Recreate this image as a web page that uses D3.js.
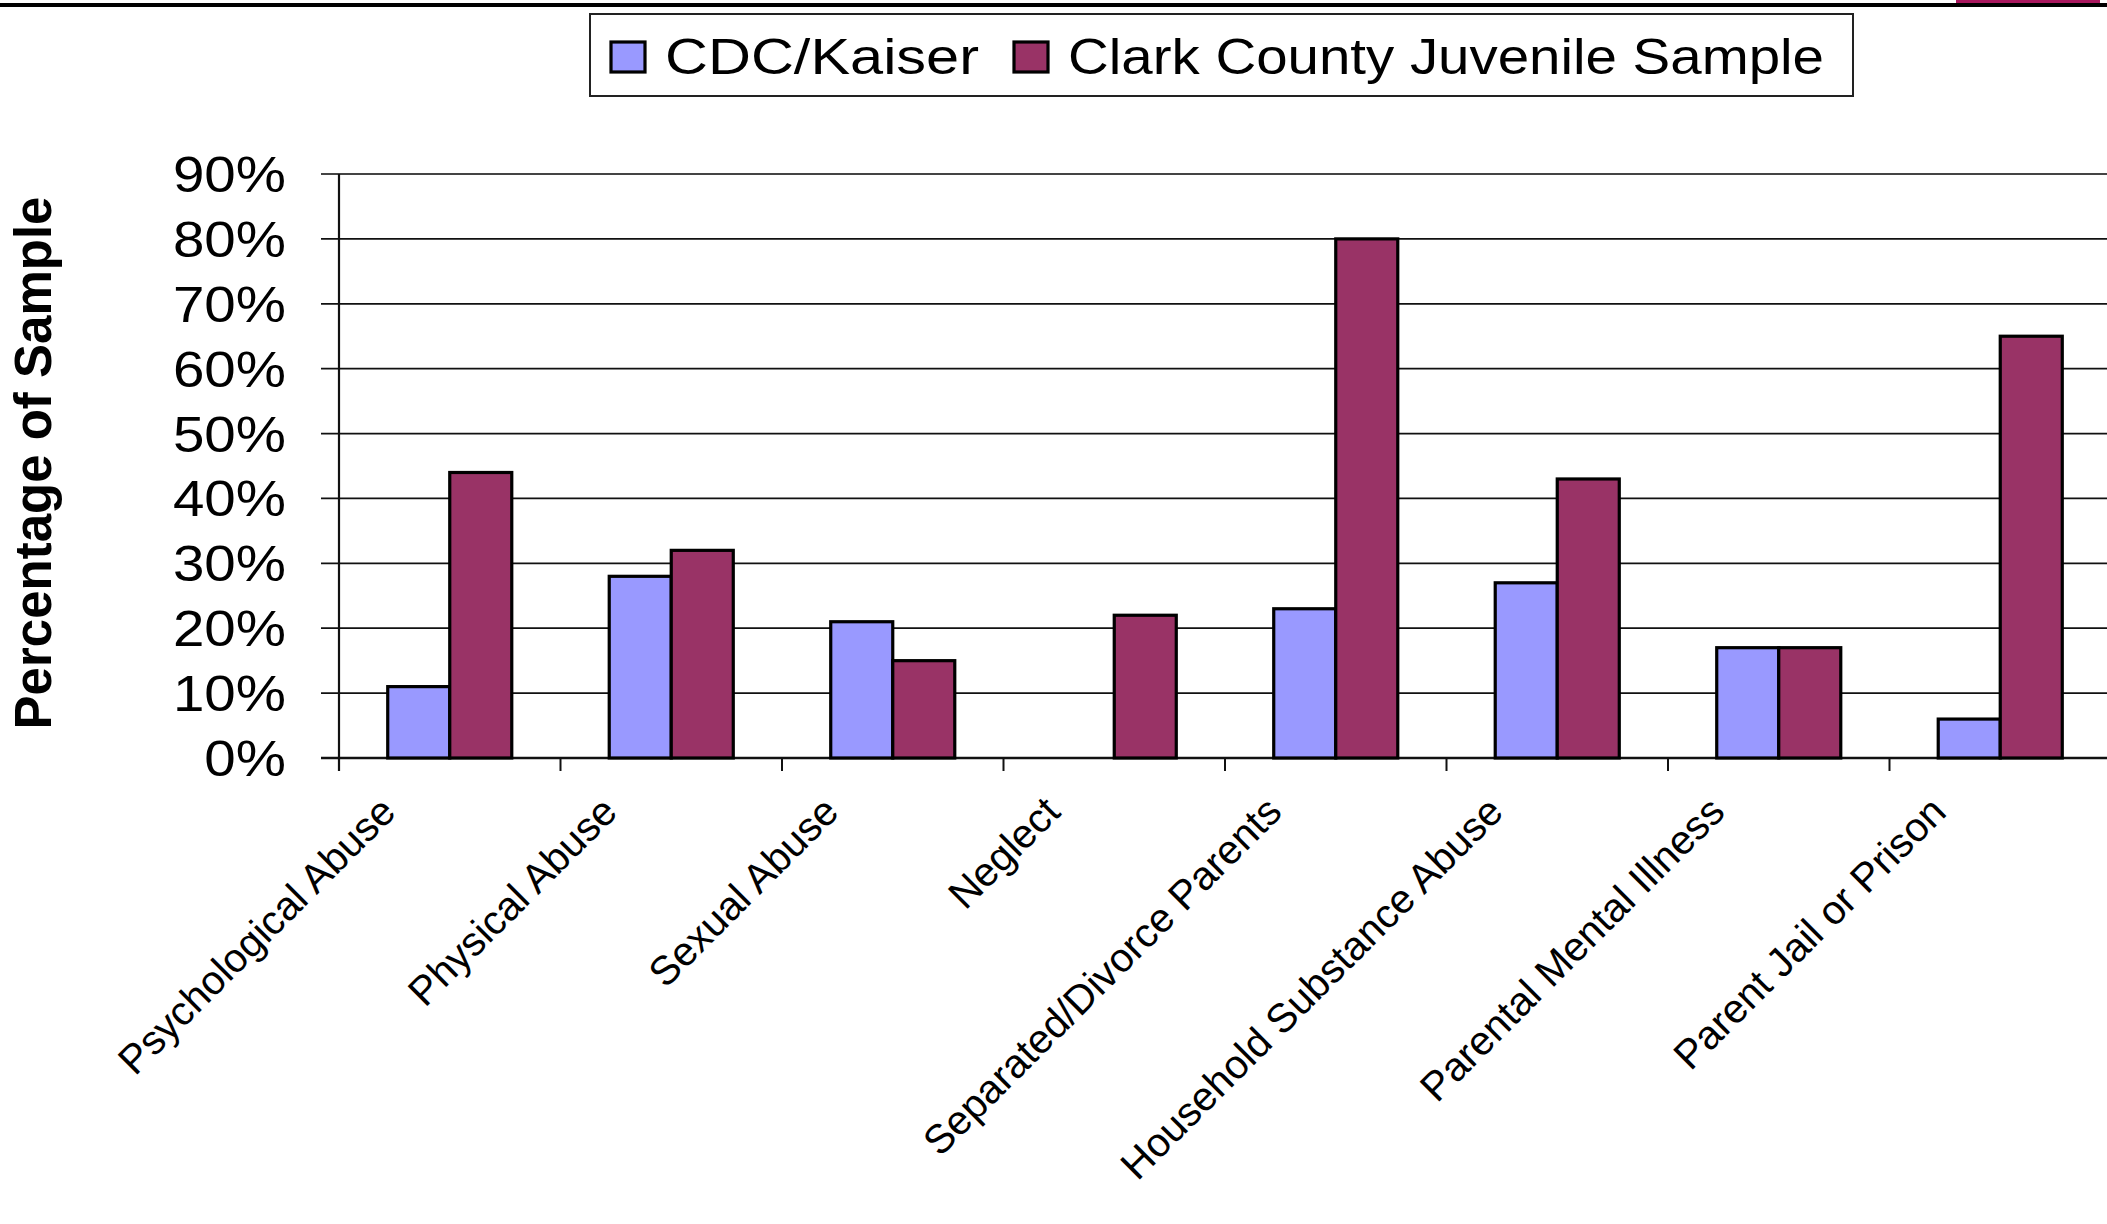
<!DOCTYPE html>
<html>
<head>
<meta charset="utf-8">
<script src="https://cdn.jsdelivr.net/npm/d3@7"></script>
<style>
  body { margin: 0; background: #fff; }
  svg { display: block; font-family: "Liberation Sans", Arial, sans-serif; }
</style>
</head>
<body>
<script>
const width = 2107, height = 1224

const categories = ["Psychological Abuse", "Physical Abuse", "Sexual Abuse", "Neglect",
    "Separated/Divorce Parents", "Household Substance Abuse", "Parental Mental Illness", "Parent Jail or Prison"]
const seriesNames = ["CDC/Kaiser", "Clark County Juvenile Sample"]
const cdcKaiser = [11, 28, 21, null, 23, 27, 17, 6]
const clarkCounty = [44, 32, 15, 22, 80, 43, 17, 65]
const yTicks = [0, 10, 20, 30, 40, 50, 60, 70, 80, 90]
const colors = ["#9999ff", "#993366"]

// the original is stretched a bit sideways
const stretchK = 1.13
function stretch(sel) {
    sel.each(function () {
        const w = this.getComputedTextLength()
        d3.select(this).attr("textLength", w * stretchK).attr("lengthAdjust", "spacingAndGlyphs")
    })
}

const plot = {left: 339, right: 2111, top: 174, bottom: 758}

const svg = d3.select("body").append("svg")
    .attr("width", width)
    .attr("height", height)

// slide header rule
svg.append("rect").attr("x", 0).attr("y", 3).attr("width", width).attr("height", 4).attr("fill", "#000")
svg.append("rect").attr("x", 1956).attr("y", 0).attr("width", 144).attr("height", 3).attr("fill", "#a8185e")

const x0 = d3.scaleBand().domain(categories).range([plot.left, plot.right])
    .paddingInner(0.44).paddingOuter(0.22)
const x1 = d3.scaleBand().domain(seriesNames).range([0, x0.bandwidth()])
const y = d3.scaleLinear().domain([0, 90]).range([plot.bottom, plot.top])

// gridlines + y ticks
svg.append("g").selectAll("line").data(yTicks).enter()
    .append("line")
    .attr("x1", plot.left - 18).attr("x2", plot.right)
    .attr("y1", d => y(d)).attr("y2", d => y(d))
    .attr("stroke", d => d === 90 ? "#444" : "#111")
    .attr("stroke-width", d => d === 0 ? 2.4 : 1.8)

svg.append("g").selectAll("text").data(yTicks).enter()
    .append("text")
    .attr("x", 286).attr("y", d => y(d) + 18)
    .attr("text-anchor", "end")
    .attr("font-size", 50)
    .text(d => d + "%")
    .call(stretch)

// y axis line
svg.append("line")
    .attr("x1", plot.left).attr("x2", plot.left)
    .attr("y1", plot.top).attr("y2", plot.bottom + 13)
    .attr("stroke", "#111").attr("stroke-width", 2.2)

// category boundary ticks
const bounds = d3.range(categories.length + 1).map(i => plot.left + i * x0.step())
svg.append("g").selectAll("line").data(bounds).enter()
    .append("line")
    .attr("x1", d => d).attr("x2", d => d)
    .attr("y1", plot.bottom).attr("y2", plot.bottom + 13)
    .attr("stroke", "#111").attr("stroke-width", 2)

// bars
const rows = categories.map((c, i) => ({cat: c, vals: [cdcKaiser[i], clarkCounty[i]]}))
const grp = svg.append("g").selectAll("g").data(rows).enter()
    .append("g")
    .attr("transform", d => `translate(${x0(d.cat)},0)`)

grp.selectAll("rect")
    .data(d => d.vals.map((v, j) => ({name: seriesNames[j], v, j})).filter(e => e.v != null))
    .enter().append("rect")
    .attr("x", d => x1(d.name))
    .attr("y", d => y(d.v))
    .attr("width", x1.bandwidth())
    .attr("height", d => y(0) - y(d.v))
    .attr("fill", d => colors[d.j])
    .attr("stroke", "#000")
    .attr("stroke-width", 3.2)

// category labels
svg.append("g").selectAll("text").data(categories).enter()
    .append("text")
    .attr("transform", d => `translate(${x0(d) + x0.bandwidth() / 2 - 52},${plot.bottom + 56}) rotate(-45)`)
    .attr("text-anchor", "end")
    .attr("font-size", 40.5)
    .text(d => d)

// y title
svg.append("text")
    .attr("transform", "translate(51,463) rotate(-90)")
    .attr("text-anchor", "middle")
    .attr("font-size", 51)
    .attr("font-weight", "bold")
    .text("Percentage of Sample")

// legend
const legend = svg.append("g")
legend.append("rect")
    .attr("x", 590).attr("y", 14).attr("width", 1263).attr("height", 82)
    .attr("fill", "#fff").attr("stroke", "#222").attr("stroke-width", 2)

const legendX = [611, 1014]
const legendTextW = [314, 756]
seriesNames.forEach((name, i) => {
    legend.append("rect")
        .attr("x", legendX[i]).attr("y", 42).attr("width", 34).attr("height", 30)
        .attr("fill", colors[i]).attr("stroke", "#000").attr("stroke-width", 3.2)
    legend.append("text")
        .attr("x", legendX[i] + 54).attr("y", 74)
        .attr("font-size", 50)
        .attr("textLength", legendTextW[i])
        .attr("lengthAdjust", "spacingAndGlyphs")
        .text(name)
})
</script>
</body>
</html>
